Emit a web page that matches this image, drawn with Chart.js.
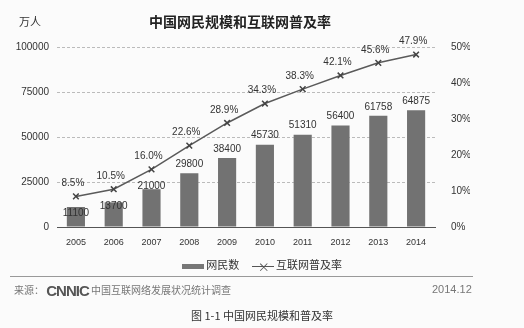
<!DOCTYPE html>
<html>
<head>
<meta charset="utf-8">
<script src="https://cdn.jsdelivr.net/npm/chart.js@4/dist/chart.umd.min.js"></script>
<style>
  html, body { margin: 0; padding: 0; background: #fbfbfb; }
  #wrap { position: relative; width: 524px; height: 328px; overflow: hidden; font-family: "Liberation Sans", Arial, sans-serif; color: #333; }
  #chart { position: absolute; left: 0; top: 0; }
  .txt { position: absolute; white-space: nowrap; }
  #unit { left: 19px; top: 13px; font-size: 11px; font-family: "Noto Sans CJK SC", sans-serif; }
  #title { left: 0; width: 480px; text-align: center; top: 11px; font-size: 14px; font-weight: bold; font-family: "Noto Sans CJK SC", sans-serif; color: #222; }
  #legend { left: 0; width: 524px; text-align: center; top: 256px; font-size: 11px; font-family: "Noto Sans CJK SC", sans-serif; }
  .sw { display: inline-block; vertical-align: middle; }
  #rule { position: absolute; left: 10px; width: 463px; top: 276px; height: 1px; background: #999; }
  #source { left: 14px; top: 282px; font-size: 10px; color: #777; font-family: "Noto Sans CJK SC", sans-serif; }
  #source b { font-family: "Liberation Sans", Arial, sans-serif; font-size: 15px; color: #555; letter-spacing: -1px; vertical-align: -2px; }
  #date { left: 432px; top: 283px; font-size: 11px; color: #777; }
  #caption { left: 0; width: 524px; text-align: center; top: 307px; font-size: 11px; font-family: "Noto Sans CJK SC", serif; color: #333; }
</style>
</head>
<body>
<div id="wrap">
  <canvas id="chart" width="524" height="328"></canvas>
  <div class="txt" id="unit">万人</div>
  <div class="txt" id="title">中国网民规模和互联网普及率</div>
  <div class="txt" id="legend">
    <span class="sw" style="width:22px;height:5px;background:#777;"></span> 网民数
    &nbsp;&nbsp;&nbsp;
    <span class="sw" style="width:22px;height:1px;background:#555;position:relative;"><span style="position:absolute;left:6px;top:-8px;font-size:12px;color:#555;">×</span></span> 互联网普及率
  </div>
  <div id="rule"></div>
  <div class="txt" id="source">来源： <b>CNNIC</b> 中国互联网络发展状况统计调查</div>
  <div class="txt" id="date">2014.12</div>
  <div class="txt" id="caption">图 1-1 中国网民规模和普及率</div>
</div>
<script>
// data
const years = ['2005', '2006', '2007', '2008', '2009', '2010', '2011', '2012', '2013', '2014'];
const netizens = [11100, 13700, 21000, 29800, 38400, 45730, 51310, 56400, 61758, 64875];
const penetration = [8.5, 10.5, 16.0, 22.6, 28.9, 34.3, 38.3, 42.1, 45.6, 47.9];
const leftTicks = [0, 25000, 50000, 75000, 100000];
const rightTicks = [0, 10, 20, 30, 40, 50];

// value labels over bars and points
const valueLabels = {
    id: 'valueLabels',
    afterDatasetsDraw(chart) {
        const ctx = chart.ctx;
        const pts = chart.getDatasetMeta(1).data;
        ctx.save();
        ctx.font = '10px "Liberation Sans", Arial, sans-serif';
        ctx.fillStyle = '#333';
        ctx.textAlign = 'center';
        ctx.textBaseline = 'bottom';
        chart.getDatasetMeta(0).data.forEach((bar, i) => {
            // push the label down when the line runs close above the bar
            const y = Math.max(bar.y - 4, pts[i].y + 22);
            ctx.fillText(String(netizens[i]), bar.x, y);
        });
        pts.forEach((pt, i) => {
            ctx.fillText(penetration[i].toFixed(1) + '%', pt.x - 3, pt.y - 8);
        });
        ctx.restore();
    }
};

new Chart(document.getElementById('chart'), {
    type: 'bar',
    data: {
        labels: years,
        datasets: [{
            label: '网民数',
            data: netizens,
            backgroundColor: '#727272',
            categoryPercentage: 1,
            barPercentage: 0.48,
            yAxisID: 'y',
            order: 2
        }, {
            type: 'line',
            label: '互联网普及率',
            data: penetration,
            borderColor: '#5a5a5a',
            borderWidth: 1.5,
            pointStyle: 'crossRot',
            pointRadius: 4,
            pointBorderColor: '#444',
            pointBorderWidth: 1.5,
            tension: 0,
            yAxisID: 'y1',
            order: 1
        }]
    },
    options: {
        responsive: false,
        animation: false,
        layout: { padding: { left: 7, right: 54, top: 47, bottom: 81 } },
        plugins: { legend: { display: false }, tooltip: { enabled: false } },
        scales: {
            x: {
                grid: { display: false },
                border: { display: true, color: '#555', width: 1 },
                ticks: { color: '#333', font: { size: 9, family: '"Liberation Sans", Arial' }, padding: 2 },
                afterFit: axis => { axis.height = 20; }
            },
            y: {
                position: 'left',
                min: 0,
                max: 100000,
                afterBuildTicks: axis => { axis.ticks = leftTicks.map(v => ({ value: v })); },
                grid: { color: '#bbbbbb', lineWidth: 1, drawTicks: false },
                border: { display: false, dash: [3, 2] },
                ticks: { color: '#333', font: { size: 10, family: '"Liberation Sans", Arial' }, padding: 8, callback: v => String(v) },
                afterFit: axis => { axis.width = 50; }
            },
            y1: {
                position: 'right',
                min: 0,
                max: 50,
                afterBuildTicks: axis => { axis.ticks = rightTicks.map(v => ({ value: v })); },
                grid: { display: false },
                border: { display: false },
                ticks: { color: '#333', font: { size: 10, family: '"Liberation Sans", Arial' }, padding: 8, callback: v => v + '%' },
                afterFit: axis => { axis.width = 35; }
            }
        }
    },
    plugins: [valueLabels]
});
</script>
</body>
</html>
